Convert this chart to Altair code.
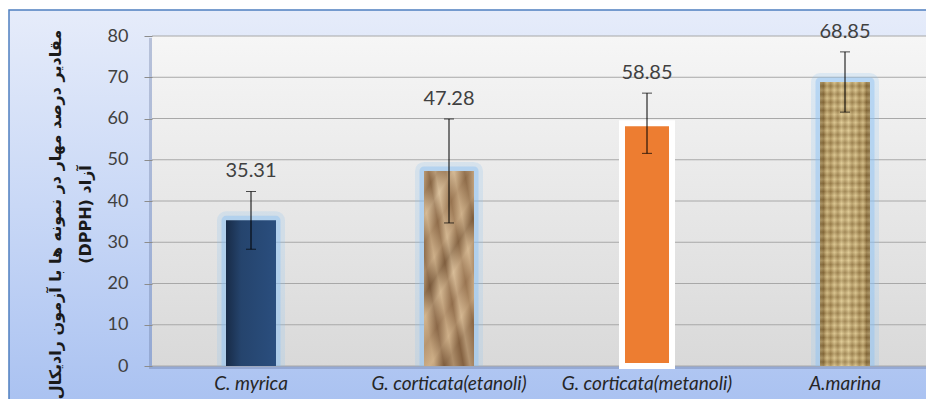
import altair as alt
import pandas as pd

species = ["C. myrica", "G. corticata(etanoli)", "G. corticata(metanoli)", "A.marina"]
values = [35.31, 47.28, 58.85, 68.85]
errors = [7.0, 12.6, 7.3, 7.3]
y_ticks = [0, 10, 20, 30, 40, 50, 60, 70, 80]
RLE, PDF = "\u202B", "\u202C"
y_title = [RLE + "مقادیر درصد مهار در نمونه ها با آزمون رادیکال" + PDF, RLE + "آزاد (DPPH)" + PDF]

df = pd.DataFrame({"species": species, "val": values, "err": errors})
df["lo"] = df.val - df.err
df["hi"] = df.val + df.err
df["label"] = df.val.map(lambda v: f"{v:.2f}")
grid_df = pd.DataFrame({"t": y_ticks})
one = pd.DataFrame({"a": [0]})

W, H = 774, 330
yscale = alt.Scale(domain=[0, 80], nice=False)
xscale = alt.Scale(range=[0, 792], paddingInner=0, paddingOuter=0)

yaxis = alt.Axis(
    values=y_ticks, grid=False, domain=False, ticks=True, tickSize=8, zindex=2,
    tickColor="#8c8c8c", labelFont="Lato", labelFontSize=18, labelColor="#404040",
    labelPadding=16, title=y_title, titleFont="DejaVu Sans", titleFontWeight="bold",
    titleFontSize=16, titleColor="#1a1a1a", titleAngle=270, titleX=-97, titleY=178,
    titleAlign="center", titleBaseline="middle", titleLineHeight=30)
xaxis = alt.Axis(
    title=None, domain=False, ticks=False, labelAngle=0, labelFont="Lato", zindex=2,
    labelFontStyle="italic", labelFontSize=19, labelColor="#262626", labelPadding=8)


def grad(stops, x1=0, x2=0, y1=0, y2=1):
    return alt.Gradient(gradient="linear",
                        stops=[alt.GradientStop(color=c, offset=o) for o, c in stops],
                        x1=x1, x2=x2, y1=y1, y2=y2)


X = alt.X("species:N", sort=species, scale=xscale, axis=xaxis)


def Y(field):
    return alt.Y(field, scale=yscale, axis=yaxis)


# outer frame
frame = alt.Chart(one).mark_rect(
    fill=grad([(0, "#e6ecfa"), (0.5, "#c9d8f6"), (1, "#aac2f1")]),
    stroke="#4f7fc0", strokeWidth=1.5
).encode(x=alt.value(-143), x2=alt.value(776), y=alt.value(-26), y2=alt.value(366))

shadow = alt.Chart(one).mark_rect(color="#55688f", opacity=0.3).encode(
    x=alt.value(-3), x2=alt.value(W), y=alt.value(2), y2=alt.value(H + 3))

plot_bg = alt.Chart(one).mark_rect(
    fill=grad([(0, "#f6f6f6"), (1, "#d9d9d9")])
).encode(x=alt.value(0), x2=alt.value(W), y=alt.value(0), y2=alt.value(H))

gridlines = alt.Chart(grid_df).mark_rule(color="#a8a8a8", strokeWidth=1).encode(
    y=Y("t:Q"), x=alt.value(0), x2=alt.value(W))

glow_df = df[df.species != "G. corticata(metanoli)"]
glow1 = alt.Chart(glow_df).mark_bar(size=50, fillOpacity=0, stroke="#8cc2f3", strokeWidth=18,
                                    strokeOpacity=0.22, strokeJoin="round", clip=True).encode(x=X, y=Y("val:Q"))
glow2 = alt.Chart(glow_df).mark_bar(size=50, fillOpacity=0, stroke="#8cc2f3", strokeWidth=9,
                                    strokeOpacity=0.45, strokeJoin="round", clip=True).encode(x=X, y=Y("val:Q"))


def bar_for(name, **kw):
    return alt.Chart(df).transform_filter(alt.datum.species == name).mark_bar(size=50, **kw).encode(
        x=X, y=Y("val:Q"))


bar1 = bar_for(species[0], fill=grad([(0, "#182b47"), (0.3, "#25446d"), (1, "#2a4e7e")], x1=0, x2=1, y1=0, y2=0))
bar2 = bar_for(species[1], fill=grad([(0, "#c9a57d"), (0.1, "#8e6b48"), (0.2, "#d6bb97"), (0.32, "#9d7853"),
                                      (0.45, "#c7a67f"), (0.55, "#7e5d3d"), (0.65, "#d1b28c"), (0.78, "#a07a56"),
                                      (0.9, "#caa880"), (1, "#8a6644")], x1=0, x2=0.4, y1=0, y2=1))
bar2b = bar_for(species[1], fillOpacity=0.45,
                fill=grad([(0, "#e0c8a4"), (0.13, "#7a5a3a"), (0.27, "#d9bf9a"), (0.38, "#8f6d4b"),
                           (0.52, "#e2cba8"), (0.61, "#7d5c3d"), (0.74, "#d6bc97"), (0.87, "#6f5035"),
                           (1, "#d3b891")], x1=1, x2=0, y1=0, y2=0.7))
bar3 = bar_for(species[2], fill="#ed7d31", stroke="white", strokeWidth=6)
bar4 = bar_for(species[3], fill=grad([(0, "#6e5328"), (0.12, "#b89a5e"), (0.5, "#d5bd84"),
                                      (0.88, "#b89a5e"), (1, "#6e5328")], x1=0, x2=1, y1=0, y2=0))
weave_h = []
for i in range(71):
    weave_h.append((i / 70, "#f4e6b8" if i % 2 == 0 else "#5e4520"))
weave_v = []
for i in range(15):
    weave_v.append((i / 14, "#f4e6b8" if i % 2 == 0 else "#6a4e24"))
bar4h = bar_for(species[3], fill=grad(weave_h), fillOpacity=0.3)
bar4v = bar_for(species[3], fill=grad(weave_v, x1=0, x2=1, y1=0, y2=0), fillOpacity=0.25)

err_rule = alt.Chart(df).mark_rule(color="black", strokeWidth=1).encode(
    x=X, y=Y("lo:Q"), y2="hi:Q")
err_caps = alt.Chart(df).transform_fold(["lo", "hi"], as_=["which", "endv"]).mark_tick(
    orient="horizontal", size=10, thickness=1, color="black").encode(x=X, y=Y("endv:Q"))

labels = alt.Chart(df).mark_text(dy=-20, fontSize=20, font="Lato", color="#404040", baseline="middle").encode(
    x=X, y=Y("hi:Q"), text="label:N")

chart = alt.layer(
    frame, shadow, plot_bg, gridlines, glow1, glow2,
    bar1, bar2, bar2b, bar3, bar4, bar4h, bar4v, err_rule, err_caps, labels
).properties(
    width=W, height=H,
    autosize=alt.AutoSizeParams(type="none"),
    padding={"left": 144, "top": 28, "right": 0, "bottom": 33},
    background="white"
).configure_view(strokeWidth=0)

chart.save("out.html", embed_options={"renderer": "svg", "actions": False})
